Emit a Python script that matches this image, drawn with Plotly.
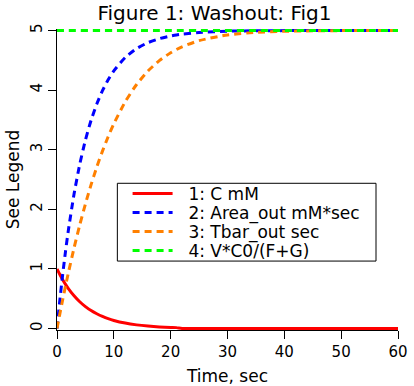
import plotly.graph_objects as go

# Time points (sec)
t = [0, 0.5, 1, 1.5, 2, 3, 4, 5, 6, 7, 8, 9, 10, 12, 14, 16, 18, 20, 21, 22,
     25, 30, 35, 40, 45, 50, 55, 60]

# 1: C mM
c_mM = [1.0, 0.905, 0.819, 0.741, 0.670, 0.549, 0.449, 0.368, 0.301, 0.247,
        0.202, 0.165, 0.135, 0.091, 0.061, 0.041, 0.027, 0.018, 0.015, 0.0,
        0.0, 0.0, 0.0, 0.0, 0.0, 0.0, 0.0, 0.0]

# 2: Area_out mM*sec
area_out = [0.0, 0.476, 0.906, 1.296, 1.648, 2.256, 2.753, 3.161, 3.494, 3.767,
            3.991, 4.174, 4.323, 4.546, 4.696, 4.796, 4.863, 4.908, 4.925, 4.939,
            4.966, 4.988, 4.995, 4.998, 4.999, 5.0, 5.0, 5.0]

# 3: Tbar_out sec
tbar_out = [0.0, 0.246, 0.483, 0.713, 0.934, 1.351, 1.736, 2.090, 2.414, 2.709,
            2.976, 3.218, 3.435, 3.803, 4.094, 4.320, 4.494, 4.627, 4.680, 4.727,
            4.830, 4.925, 4.968, 4.987, 4.994, 4.998, 4.999, 5.0]

# 4: V*C0/(F+G)
steady = [5.0] * len(t)

names = ["1: C mM", "2: Area_out mM*sec", "3: Tbar_out sec", "4: V*C0/(F+G)"]
colors = ["#ff0000", "#0000ff", "#ff8000", "#00ff00"]
series = [c_mM, area_out, tbar_out, steady]
dashes = ["solid", "7px,5px", "7px,5px", "7px,5px"]
legend_ids = ["legend", "legend2", "legend3", "legend4"]

FONT = "DejaVu Sans"

fig = go.Figure()
for name, col, ys, d, lg in zip(names, colors, series, dashes, legend_ids):
    fig.add_trace(go.Scatter(
        x=t, y=ys, mode="lines", name="\u00a0\u00a0" + name, legend=lg,
        line=dict(color=col, width=3, dash=d, shape="spline", smoothing=0.6),
    ))

# legend frame (opaque, covers the curves like the reference)
fig.add_shape(type="rect", xref="paper", yref="paper",
              x0=0.177, x1=0.9355, y0=0.229, y1=0.4874,
              line=dict(color="black", width=1), fillcolor="white",
              layer="above")

row_y = [0.4518, 0.3887, 0.3256, 0.2625]
legend_common = dict(x=0.207, xanchor="left", yanchor="middle",
                     bgcolor="rgba(0,0,0,0)", borderwidth=0,
                     font=dict(size=17, family=FONT), itemwidth=40)

fig.update_layout(
    width=414, height=386,
    paper_bgcolor="white", plot_bgcolor="white",
    margin=dict(l=57, r=16, t=29, b=56),
    font=dict(family=FONT, size=15, color="black"),
    title=dict(text="Figure 1: Washout: Fig1", x=0.518, xanchor="center",
               y=0.966, yanchor="middle", font=dict(size=20, family=FONT)),
    xaxis=dict(range=[0, 60], tickvals=[0, 10, 20, 30, 40, 50, 60],
               showline=True, linecolor="black", linewidth=1,
               ticks="outside", ticklen=8, tickcolor="black",
               showgrid=False, zeroline=False, automargin=False,
               tickfont=dict(size=15),
               title=dict(text="Time, sec", standoff=14, font=dict(size=17))),
    yaxis=dict(range=[-0.025, 5.025], tickvals=[0, 1, 2, 3, 4, 5],
               showline=True, linecolor="black", linewidth=1,
               ticks="outside", ticklen=8, tickcolor="black", tickangle=-90,
               showgrid=False, zeroline=False, automargin=False,
               tickfont=dict(size=15),
               title=dict(text="See Legend", standoff=4, font=dict(size=17))),
    legend=dict(y=row_y[0], **legend_common),
    legend2=dict(y=row_y[1], **legend_common),
    legend3=dict(y=row_y[2], **legend_common),
    legend4=dict(y=row_y[3], **legend_common),
    showlegend=True,
)

fig.write_html("out.html", config={"displayModeBar": False},
               post_script="document.body.style.margin='0';")
